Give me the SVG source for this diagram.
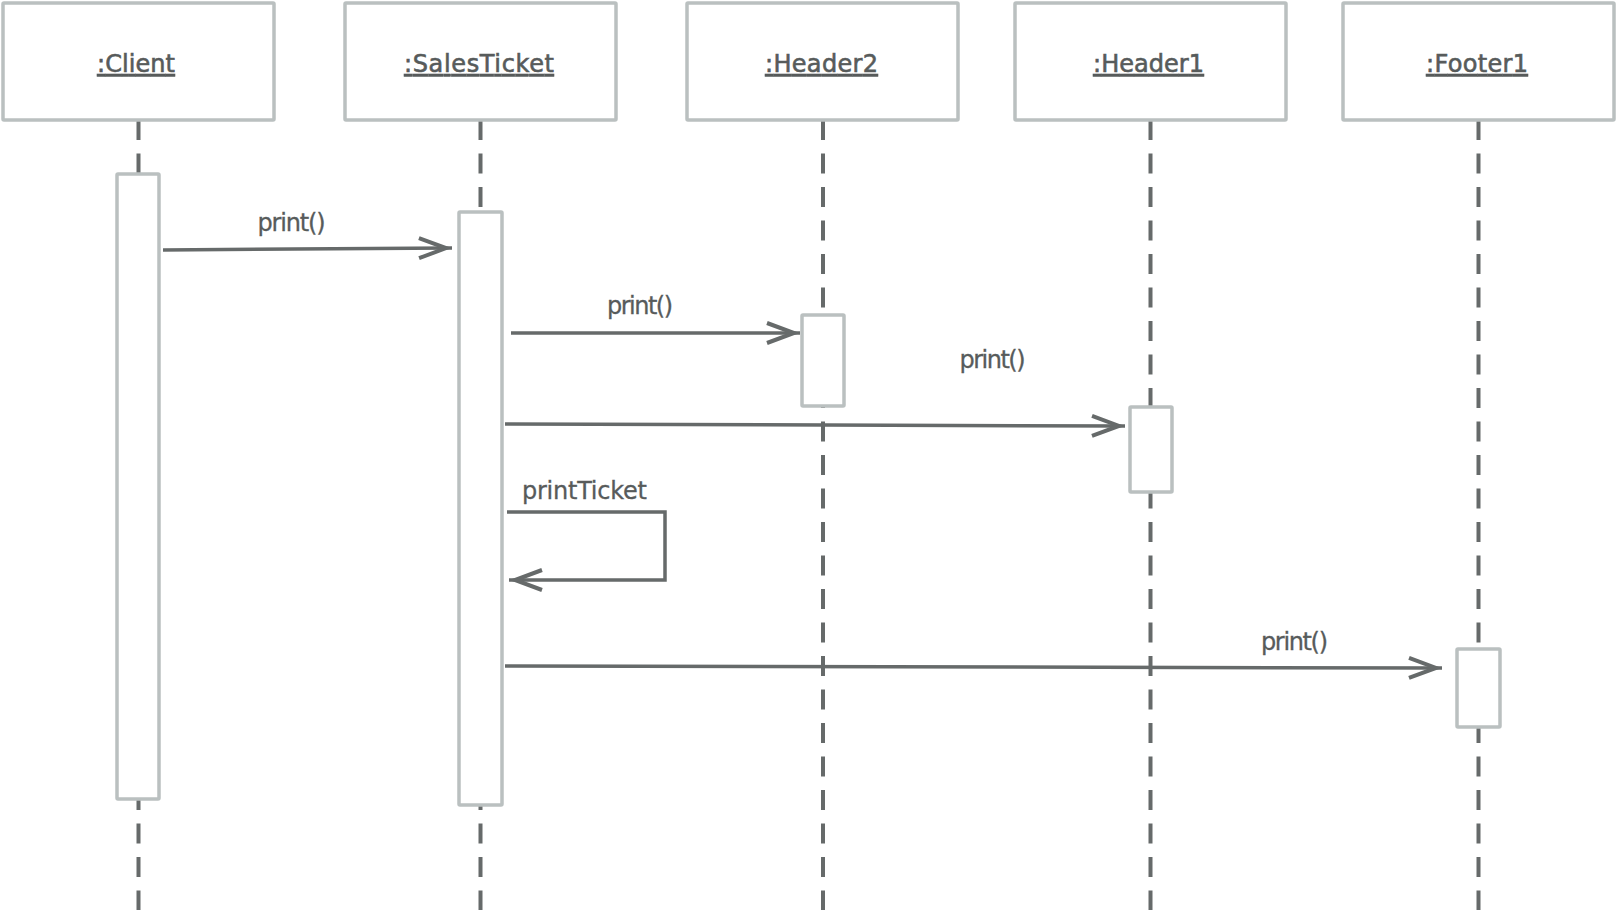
<svg xmlns="http://www.w3.org/2000/svg" width="1616" height="910" viewBox="0 0 1616 910">
<style>
.box{fill:#fff;stroke:#bac0c0;stroke-width:3.5;}
.act{fill:#fff;stroke:#bac0c0;stroke-width:3.5;}
.life{stroke:#666a6a;stroke-width:4;stroke-dasharray:20 13.5;fill:none;}
.msg{stroke:#666a6a;stroke-width:3.5;fill:none;marker-end:url(#arr);}
.title{font-family:"DejaVu Sans",sans-serif;font-size:24px;fill:#575b5b;stroke:#575b5b;stroke-width:0.6;text-anchor:middle;text-decoration:underline;}
.lbl{font-family:"DejaVu Sans",sans-serif;font-size:24px;fill:#575b5b;stroke:#575b5b;stroke-width:0.3;text-anchor:middle;}
</style>
<defs>
<marker id="arr" markerUnits="userSpaceOnUse" markerWidth="40" markerHeight="30" refX="36" refY="15" orient="auto" overflow="visible">
<path d="M3,5 L30,15 L3,25" fill="none" stroke="#666a6a" stroke-width="4"/>
</marker>
</defs>
<rect width="1616" height="910" fill="#fff"/>
<g id="lifelines">
<line class="life" x1="138.5" y1="120" x2="138.5" y2="910"/>
<line class="life" x1="480.5" y1="120" x2="480.5" y2="910"/>
<line class="life" x1="823" y1="120" x2="823" y2="910"/>
<line class="life" x1="1150.5" y1="120" x2="1150.5" y2="910"/>
<line class="life" x1="1478.5" y1="120" x2="1478.5" y2="910"/>
</g>
<g id="client">
<rect class="box" x="3" y="3" width="271" height="117" rx="1"/>
<text class="title" x="136" y="72" textLength="78">:Client</text>
<rect class="act" x="117" y="174" width="42" height="625" rx="1"/>
</g>
<g id="salesticket">
<rect class="box" x="345" y="3" width="271" height="117" rx="1"/>
<text class="title" x="479" y="72" textLength="150">:SalesTicket</text>
<rect class="act" x="459" y="212" width="43" height="593" rx="1"/>
</g>
<g id="header2">
<rect class="box" x="687" y="3" width="271" height="117" rx="1"/>
<text class="title" x="821.5" y="72" textLength="113">:Header2</text>
<rect class="act" x="802" y="315" width="42" height="91" rx="1"/>
</g>
<g id="header1">
<rect class="box" x="1015" y="3" width="271" height="117" rx="1"/>
<text class="title" x="1148.5" y="72" textLength="111">:Header1</text>
<rect class="act" x="1130" y="407" width="42" height="85" rx="1"/>
</g>
<g id="footer1">
<rect class="box" x="1343" y="3" width="271" height="117" rx="1"/>
<text class="title" x="1477" y="72" textLength="102">:Footer1</text>
<rect class="act" x="1457" y="649" width="43" height="78" rx="1"/>
</g>
<g id="connectors">
<line class="msg" x1="163" y1="250" x2="452" y2="248"/>
<text class="lbl" x="291.5" y="231" textLength="68">print()</text>
<line class="msg" x1="511" y1="333" x2="800" y2="333"/>
<text class="lbl" x="640" y="314" textLength="66">print()</text>
<line class="msg" x1="505" y1="424" x2="1125" y2="426"/>
<text class="lbl" x="992.5" y="368" textLength="66">print()</text>
<path class="msg" d="M507,512 H665 V580 H509"/>
<text class="lbl" x="584.5" y="499" textLength="125">printTicket</text>
<line class="msg" x1="505" y1="666" x2="1442" y2="668"/>
<text class="lbl" x="1294.5" y="650" textLength="67">print()</text>
</g>
</svg>
